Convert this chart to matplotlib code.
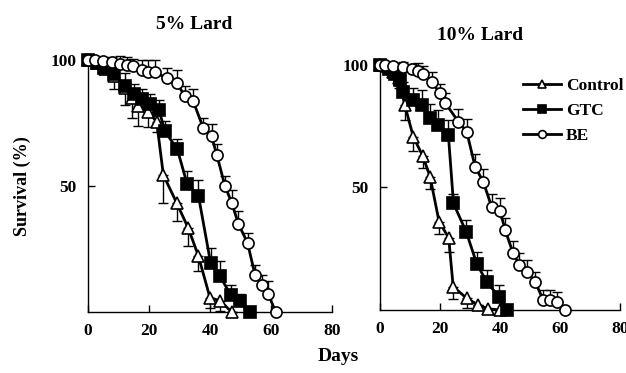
import numpy as np
from matplotlib import pyplot as plt

plt.rcParams['font.family'] = ['Liberation Serif', 'DejaVu Serif']
plt.rcParams['font.weight'] = 'bold'

# 5% lard panel
l_ctrl_day = [0, 3, 5.5, 8.5, 12, 14.5, 16.5, 19.8, 22.5, 24.7, 29.1, 32.9, 36.2, 40, 43.3, 47.1]
l_ctrl_surv = [100, 99, 96.5, 93.5, 89, 85, 81.8, 79.5, 75.5, 54.4, 43.2, 33.2, 22.2, 5.6, 4.5, 0]
l_ctrl_err = [0, 0, 2, 5, 7, 8, 8, 6, 4, 11, 7, 7, 6, 4, 4, 0]

l_gtc_day = [0, 3, 5.3, 8.6, 12, 15, 17.6, 20.3, 23.3, 25.2, 29.3, 32.5, 36.2, 40.2, 43.3, 46.8, 49.9, 53.1]
l_gtc_surv = [100, 99, 97, 94.5, 89.8, 86.6, 84.5, 82.7, 80, 71.8, 64.5, 50.8, 46.2, 19.4, 14.1, 6.8, 4.2, 0]
l_gtc_err = [0, 0, 2, 3, 5, 4, 4, 4, 4, 4, 4, 5, 6, 6, 6, 4, 3, 0]

l_be_day = [0, 2.3, 5, 7.8, 10.5, 12.7, 14.9, 17.6, 19.8, 22, 25.8, 29.1, 31.8, 34.5, 37.8, 40.5,
            42.2, 44.9, 47.1, 49.3, 52.3, 54.8, 57, 59.1, 61.5]
l_be_surv = [100, 100, 99.7, 99.3, 98.4, 98, 97.6, 95.9, 95.1, 95.1, 92.8, 90.9, 85.6, 83.6, 73, 69.7,
             62.5, 50, 43.4, 35, 27.4, 14.5, 10.8, 7.2, 0]
l_be_err = [0, 0, 1, 2, 3, 3, 3, 4, 5, 5, 4, 5, 4, 5, 4, 5, 4, 4, 5, 5, 4, 4, 4, 5, 0]

# 10% lard panel
r_ctrl_day = [0, 2.5, 4.5, 6.2, 8.3, 11.1, 14.2, 16.7, 19.7, 22.9, 24.4, 28.9, 32.8, 36.1, 40]
r_ctrl_surv = [100, 99.5, 97, 94.5, 83.5, 70.7, 63, 54.4, 36, 29.5, 9.5, 4.8, 2, 0.5, 0]
r_ctrl_err = [0, 0, 2, 4, 6, 6, 5, 5, 5, 6, 5, 4, 0, 0, 0]

r_gtc_day = [0, 3, 5, 6.7, 7.8, 11.1, 13.9, 16.7, 19.4, 22.8, 24.5, 28.8, 32.3, 35.6, 39.6, 42.5]
r_gtc_surv = [100, 98.5, 96.5, 94, 89.1, 85.5, 83.7, 78.2, 75.5, 71.4, 43.5, 31.7, 18.7, 11.5, 5.4, 0]
r_gtc_err = [0, 0, 2, 3, 4, 5, 6, 6, 6, 6, 4, 5, 5, 5, 5, 0]

r_be_day = [0, 1.7, 4.4, 7.8, 10.6, 12.8, 14.4, 17.2, 20, 21.7, 26.1, 28.9, 31.7, 34.4, 37.2, 40,
            41.7, 44.4, 46.4, 48.9, 51.7, 54.4, 56.7, 58.9, 61.7]
r_be_surv = [100, 100, 99.6, 99.2, 98.5, 97.6, 96.5, 93.2, 88.4, 84.6, 76.9, 72.8, 58.5, 52.4, 42.2, 40.6,
             32.7, 23.1, 18.4, 15.6, 11.6, 4.1, 4.1, 3.4, 0]
r_be_err = [0, 0, 1, 2, 2, 3, 3, 4, 4, 4, 5, 5, 5, 5, 5, 5, 5, 5, 5, 5, 4, 4, 4, 4, 0]

titles = ['5% Lard', '10% Lard']
x_ticks = [0, 20, 40, 60, 80]
y_ticks = [50, 100]


def draw_series(ax, day, surv, err, marker, face, label, below):
    err = np.array(err)
    zero = np.zeros_like(err)
    yerr = [err, zero] if below else [zero, err]
    ax.errorbar(day, surv, yerr=yerr, fmt='none', ecolor='black', elinewidth=1,
                capsize=3.5, capthick=1, clip_on=False, zorder=2)
    ax.plot(day, surv, color='black', lw=2, marker=marker, markersize=8,
            markerfacecolor=face, markeredgecolor='black', markeredgewidth=1.2,
            label=label, clip_on=False, zorder=3)


fig = plt.figure(figsize=(6.26, 3.73), dpi=100)
ax1 = fig.add_axes([0.1406, 0.1635, 0.3898, 0.6756])
ax2 = fig.add_axes([0.607, 0.1689, 0.3834, 0.657])

panels = [
    (ax1, [(l_ctrl_day, l_ctrl_surv, l_ctrl_err), (l_gtc_day, l_gtc_surv, l_gtc_err), (l_be_day, l_be_surv, l_be_err)]),
    (ax2, [(r_ctrl_day, r_ctrl_surv, r_ctrl_err), (r_gtc_day, r_gtc_surv, r_gtc_err), (r_be_day, r_be_surv, r_be_err)]),
]
styles = [('^', 'white', 'Control', True), ('s', 'black', 'GTC', False), ('o', 'white', 'BE', False)]

for i, (ax, series) in enumerate(panels):
    for (d, s, e), (mk, fc, lab, below) in zip(series, styles):
        draw_series(ax, d, s, e, mk, fc, lab, below)
    ax.set_xlim(0, 80)
    ax.set_ylim(0, 100)
    ax.set_xticks(x_ticks)
    ax.set_yticks(y_ticks)
    ax.tick_params(direction='in', length=5, width=1, labelsize=12.5, pad=8)
    for lbl in ax.get_xticklabels() + ax.get_yticklabels():
        lbl.set_fontweight('bold')
    ax.spines['top'].set_visible(False)
    ax.spines['right'].set_visible(False)
    ax.spines['left'].set_linewidth(1)
    ax.spines['bottom'].set_linewidth(1)

fig.text(0.31, 0.935, titles[0], ha='center', va='center', fontsize=14, fontweight='bold')
fig.text(0.767, 0.905, titles[1], ha='center', va='center', fontsize=14, fontweight='bold')
fig.text(0.035, 0.50, 'Survival (%)', ha='center', va='center', rotation=90, fontsize=13, fontweight='bold')
fig.text(0.54, 0.045, 'Days', ha='center', va='center', fontsize=14, fontweight='bold')

ax2.legend(loc='upper left', bbox_to_anchor=(0.565, 0.975), frameon=False,
           markerscale=0.7, handlelength=2.2, handletextpad=0.3, labelspacing=0.5,
           borderaxespad=0, prop={'weight': 'bold', 'size': 12.5})

fig.savefig('out.png', dpi=100)
